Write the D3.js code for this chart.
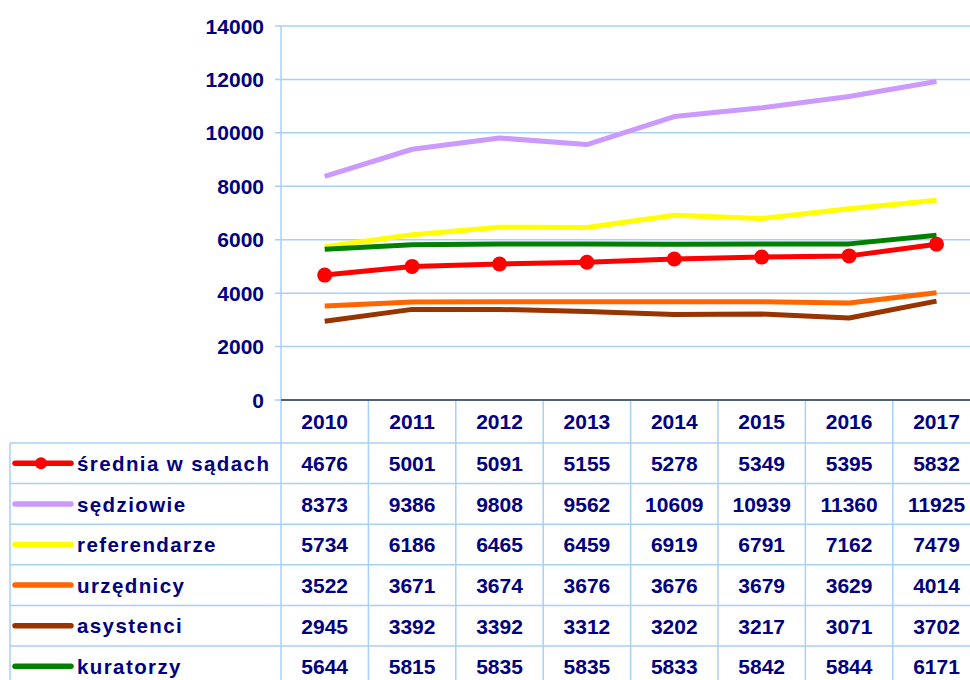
<!DOCTYPE html>
<html>
<head>
<meta charset="utf-8">
<script src="https://cdn.jsdelivr.net/npm/d3@7"></script>
<style>
  body { margin: 0; background: #fff; }
  svg { display: block; font-family: "Liberation Sans", Arial, sans-serif; }
</style>
</head>
<body>
<div id="chart"></div>
<script>
// Data
var years = ['2010', '2011', '2012', '2013', '2014', '2015', '2016', '2017'];
var seriesNames = ['średnia w sądach', 'sędziowie', 'referendarze', 'urzędnicy', 'asystenci', 'kuratorzy'];
var sredniaValues = [4676, 5001, 5091, 5155, 5278, 5349, 5395, 5832];
var sedziowieValues = [8373, 9386, 9808, 9562, 10609, 10939, 11360, 11925];
var referendarzeValues = [5734, 6186, 6465, 6459, 6919, 6791, 7162, 7479];
var urzednicyValues = [3522, 3671, 3674, 3676, 3676, 3679, 3629, 4014];
var asystenciValues = [2945, 3392, 3392, 3312, 3202, 3217, 3071, 3702];
var kuratorzyValues = [5644, 5815, 5835, 5835, 5833, 5842, 5844, 6171];
var yTicks = [0, 2000, 4000, 6000, 8000, 10000, 12000, 14000];

var colors = ['#ff0000', '#cc99ff', '#ffff00', '#ff6600', '#993300', '#008000'];
var seriesValues = [sredniaValues, sedziowieValues, referendarzeValues, urzednicyValues, asystenciValues, kuratorzyValues];

var series = seriesNames.map(function(name, i) {
    return { name: name, values: seriesValues[i], color: colors[i], marker: i === 0 };
});

var width = 970, height = 680;
var plotLeft = 281, plotTop = 26, plotBottom = 400, colW = 87.4;
var tableLeft = 10, headerBottom = 443, rowH = 40.6;
var gridColor = '#a9d0f5', textColor = '#000080';
var numSize = 21;

var svg = d3.select('#chart').append('svg')
    .attr('width', width)
    .attr('height', height);

var x = d3.scaleBand()
    .domain(years)
    .range([plotLeft, plotLeft + years.length * colW]);

var y = d3.scaleLinear()
    .domain([0, 14000])
    .range([plotBottom, plotTop]);

var rowY = d3.scaleBand()
    .domain(seriesNames)
    .range([headerBottom, headerBottom + seriesNames.length * rowH]);

// Grid lines
svg.append('g')
    .selectAll('line')
    .data(yTicks.filter(function(d) { return d > 0; }))
    .enter()
    .append('line')
    .attr('x1', plotLeft - 6)
    .attr('x2', width)
    .attr('y1', function(d) { return y(d); })
    .attr('y2', function(d) { return y(d); })
    .attr('stroke', gridColor)
    .attr('stroke-width', 1.5);

// Left border of plot
svg.append('line')
    .attr('x1', plotLeft).attr('x2', plotLeft)
    .attr('y1', plotTop).attr('y2', height)
    .attr('stroke', gridColor).attr('stroke-width', 1.5);

// Y axis labels
svg.append('g')
    .selectAll('text')
    .data(yTicks)
    .enter()
    .append('text')
    .attr('x', 264)
    .attr('y', function(d) { return y(d); })
    .attr('dy', '0.36em')
    .attr('text-anchor', 'end')
    .attr('font-size', numSize)
    .attr('font-weight', 'bold')
    .attr('fill', textColor)
    .text(function(d) { return d; });

// Table vertical lines (column separators)
svg.append('g')
    .selectAll('line')
    .data(years.slice(1))
    .enter()
    .append('line')
    .attr('x1', function(d) { return x(d); })
    .attr('x2', function(d) { return x(d); })
    .attr('y1', plotBottom)
    .attr('y2', height)
    .attr('stroke', gridColor)
    .attr('stroke-width', 1.5);

// Table left border
svg.append('line')
    .attr('x1', tableLeft).attr('x2', tableLeft)
    .attr('y1', headerBottom).attr('y2', height)
    .attr('stroke', gridColor).attr('stroke-width', 1.5);

// Table horizontal lines
svg.append('g')
    .selectAll('line')
    .data(seriesNames)
    .enter()
    .append('line')
    .attr('x1', tableLeft)
    .attr('x2', width)
    .attr('y1', function(d) { return rowY(d); })
    .attr('y2', function(d) { return rowY(d); })
    .attr('stroke', gridColor)
    .attr('stroke-width', 1.5);

// Zero line
svg.append('line')
    .attr('x1', plotLeft - 6).attr('x2', width)
    .attr('y1', y(0)).attr('y2', y(0))
    .attr('stroke', gridColor).attr('stroke-width', 1.5);
svg.append('line')
    .attr('x1', plotLeft).attr('x2', width)
    .attr('y1', y(0)).attr('y2', y(0))
    .attr('stroke', '#4f6272').attr('stroke-width', 2);

// Header years
svg.append('g')
    .selectAll('text')
    .data(years)
    .enter()
    .append('text')
    .attr('x', function(d) { return x(d) + x.bandwidth() / 2; })
    .attr('y', (plotBottom + headerBottom) / 2)
    .attr('dy', '0.36em')
    .attr('text-anchor', 'middle')
    .attr('font-size', numSize)
    .attr('font-weight', 'bold')
    .attr('fill', textColor)
    .text(function(d) { return d; });

// Lines
var line = d3.line()
    .x(function(d, i) { return x(years[i]) + x.bandwidth() / 2; })
    .y(function(d) { return y(d); });

var drawOrder = [4, 3, 2, 5, 1, 0];
svg.append('g')
    .selectAll('path')
    .data(drawOrder.map(function(i) { return series[i]; }))
    .enter()
    .append('path')
    .attr('d', function(d) { return line(d.values); })
    .attr('fill', 'none')
    .attr('stroke', function(d) { return d.color; })
    .attr('stroke-width', 5)
    .attr('stroke-linejoin', 'round');

// Markers for średnia
svg.append('g')
    .selectAll('circle')
    .data(sredniaValues)
    .enter()
    .append('circle')
    .attr('cx', function(d, i) { return x(years[i]) + x.bandwidth() / 2; })
    .attr('cy', function(d) { return y(d); })
    .attr('r', 7.5)
    .attr('fill', colors[0]);

// Table rows
var rows = svg.append('g')
    .selectAll('g')
    .data(series)
    .enter()
    .append('g')
    .attr('transform', function(d) { return 'translate(0,' + (rowY(d.name) + rowY.bandwidth() / 2) + ')'; });

rows.append('line')
    .attr('x1', 15).attr('x2', 71)
    .attr('y1', 0).attr('y2', 0)
    .attr('stroke', function(d) { return d.color; })
    .attr('stroke-width', 5.5)
    .attr('stroke-linecap', 'round');

rows.filter(function(d) { return d.marker; })
    .append('circle')
    .attr('cx', 41).attr('cy', 0).attr('r', 6)
    .attr('fill', function(d) { return d.color; });

rows.append('text')
    .attr('x', 77)
    .attr('dy', '0.38em')
    .attr('font-size', 20.5)
    .attr('font-weight', 'bold')
    .attr('letter-spacing', 1.4)
    .attr('fill', textColor)
    .text(function(d) { return d.name; });

rows.selectAll('text.val')
    .data(function(d) { return d.values; })
    .enter()
    .append('text')
    .attr('class', 'val')
    .attr('x', function(d, i) { return x(years[i]) + x.bandwidth() / 2; })
    .attr('dy', '0.38em')
    .attr('text-anchor', 'middle')
    .attr('font-size', numSize)
    .attr('font-weight', 'bold')
    .attr('fill', textColor)
    .text(function(d) { return d; });
</script>
</body>
</html>
